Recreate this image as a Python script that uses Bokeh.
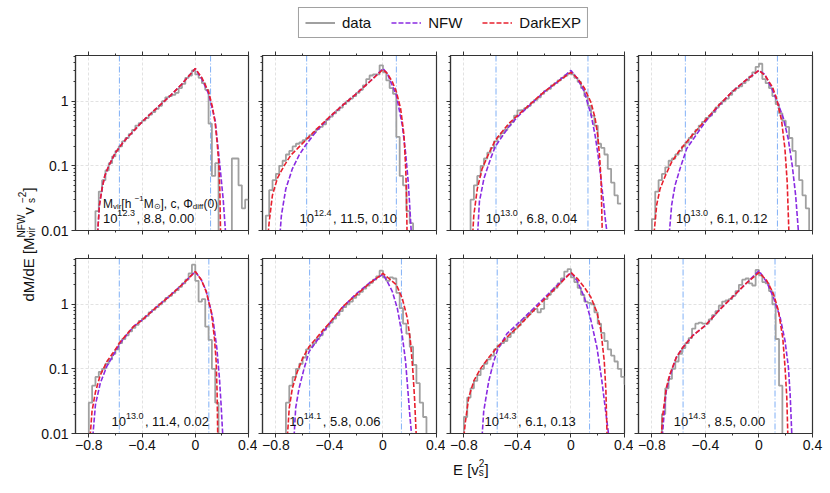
import math
import numpy as np
from bokeh.plotting import figure
from bokeh.models import (Range1d, FixedTicker, LinearAxis, CustomJSTickFormatter,
                          Span, Legend, LegendItem)
from bokeh.layouts import row, column
from bokeh.core.properties import value
from bokeh.embed import file_html
from bokeh.resources import INLINE

# ---------------------------------------------------------------- data
series_names = ["data", "NFW", "DarkEXP"]
xtick_vals = [-0.8, -0.4, 0.0, 0.4]
xtick_labels = ["\u22120.8", "\u22120.4", "0", "0.4"]
xtick_minor = [-0.6, -0.2, 0.2]
ytick_vals = [0.01, 0.1, 1.0]
ytick_labels = ["0.01", "0.1", "1"]

mass_exp = ["12.3", "12.4", "13.0", "13.0", "13.0", "14.1", "14.3", "14.3"]
conc = ["8.8", "11.5", "6.8", "6.1", "11.4", "5.8", "6.1", "8.5"]
phi0 = ["0.00", "0.10", "0.04", "0.12", "0.02", "0.06", "0.13", "0.00"]

# energy marks (blue dash-dot lines)
e_lo = [-0.57, -0.57, -0.56, -0.55, -0.571, -0.548, -0.551, -0.567]
e_hi = [0.115, 0.10, 0.127, 0.138, 0.102, 0.138, 0.139, 0.12]

# histogram of the simulation data: first bin edge, bin width, values
bin_width = 0.025
data_start = [-0.75, -0.875, -0.75, -0.8, -0.8, -0.725, -0.8, -0.725]
data_p1 = [0.02, 0.04, 0.06, 0.085, 0.11, 0.14, 0.17, 0.2, 0.24, 0.27, 0.31, 0.36, 0.42, 0.46, 0.5,
           0.55, 0.62, 0.68, 0.76, 0.85, 1.0, 1.15, 1.2, 1.25, 1.35, 1.6, 1.85, 2.3, 2.5, 3.0,
           2.6, 2.3, 1.9, 1.5, 0.45, 0.07, 0.11, 1e-4, 1e-4, 1e-4, 1e-4, 0.13, 0.13, 0.05, 0.022, 0.03]
data_p2 = [0.017, 0.042, 0.06, 0.075, 0.1, 0.12, 0.15, 0.17, 0.2, 0.22, 0.23, 0.25, 0.27, 0.3, 0.33,
           0.37, 0.4, 0.44, 0.52, 0.58, 0.65, 0.72, 0.8, 0.9, 1.0, 1.1, 1.2, 1.35, 1.5, 1.75, 2.2,
           2.5, 2.6, 2.6, 3.6,
           2.8, 2.1, 1.6, 1.3, 0.28, 0.07, 0.05, 0.02, 0.013, 1e-4]
data_p3 = [0.03, 0.05, 0.07, 0.1, 0.13, 0.16, 0.19, 0.24, 0.28, 0.32, 0.36, 0.42, 0.48, 0.6, 0.72,
           0.73, 0.78, 0.85, 0.95, 1.05, 1.15, 1.3, 1.45, 1.55, 1.75, 1.9, 2.1, 2.3, 2.5, 2.7,
           2.6, 2.3, 2.0, 1.6, 1.2, 0.85, 0.6, 0.42, 0.22, 0.19, 0.15, 0.09, 0.055, 0.035, 0.026]
data_p4 = [0.015, 0.04, 0.06, 0.075, 0.095, 0.12, 0.13, 0.15, 0.17, 0.2, 0.23, 0.27, 0.31, 0.36,
           0.42, 0.48, 0.55, 0.6, 0.68, 0.8, 0.9, 1.0, 1.1, 1.25, 1.45, 1.6, 1.7, 1.9, 2.1, 2.4,
           2.8, 3.4,
           3.8, 2.2, 1.9, 1.6, 1.2, 0.9, 0.65, 0.5, 0.4, 0.27, 0.17, 0.1, 0.06, 0.035, 0.022, 1e-4]
data_p5 = [0.03, 0.055, 0.075, 0.09, 0.1, 0.12, 0.14, 0.17, 0.2, 0.25, 0.29, 0.33, 0.38, 0.43,
           0.48, 0.55, 0.6, 0.66, 0.75, 0.82, 0.9, 1.0, 1.1, 1.25, 1.35, 1.5, 1.65, 1.85, 2.1, 2.4,
           3.0, 4.1,
           2.3, 1.1, 1.2, 0.45, 0.28, 0.1, 0.03, 1e-4]
data_p6 = [0.03, 0.055, 0.075, 0.1, 0.12, 0.15, 0.2, 0.22, 0.25, 0.29, 0.33, 0.4, 0.45, 0.52, 0.6,
           0.68, 0.78, 0.9, 1.0, 1.1, 1.25, 1.4, 1.55, 1.75, 1.95, 2.15, 2.4, 2.7, 3.3,
           2.6, 2.3, 2.6, 2.5, 1.5, 0.87, 0.5, 0.35, 0.22, 0.115, 0.06, 0.03, 0.018, 1e-4]
data_p7 = [0.018, 0.036, 0.05, 0.065, 0.08, 0.1, 0.12, 0.14, 0.16, 0.2, 0.23, 0.25, 0.27, 0.31,
           0.36, 0.42, 0.47, 0.55, 0.62, 0.7, 0.78, 0.85, 0.75, 0.85, 1.2, 1.4, 1.6, 1.8, 2.1, 2.5,
           3.2, 3.5,
           2.6, 2.2, 1.8, 1.4, 1.1, 1.05, 1.0, 0.75, 0.5, 0.36, 0.27, 0.2, 0.16, 0.13, 0.1, 0.075, 0.058]
data_p8 = [0.02, 0.05, 0.07, 0.1, 0.13, 0.17, 0.21, 0.25, 0.3, 0.42, 0.5, 0.52, 0.5, 0.5, 0.58,
           0.68, 0.78, 0.95, 1.1, 1.15, 1.2, 1.35, 1.6, 2.0, 2.4, 2.5, 2.1, 1.95, 3.4,
           2.8, 2.2, 2.1, 1.6, 1.0, 0.29, 0.055, 1e-4]
data_vals = [data_p1, data_p2, data_p3, data_p4, data_p5, data_p6, data_p7, data_p8]

# DarkEXP model curves
dexp_E1 = [-0.734, -0.72, -0.70, -0.68, -0.65, -0.60, -0.55, -0.50, -0.45, -0.40, -0.30, -0.20, -0.10, 0.0, 0.05, 0.10, 0.13, 0.15, 0.165, 0.178, 0.185, 0.19]
dexp_y1 = [0.009, 0.025, 0.045, 0.07, 0.10, 0.16, 0.22, 0.29, 0.37, 0.48, 0.75, 1.15, 1.85, 3.2, 2.3, 1.4, 0.8, 0.45, 0.22, 0.1, 0.04, 0.009]
dexp_E2 = [-0.858, -0.85, -0.826, -0.789, -0.739, -0.689, -0.639, -0.577, -0.49, -0.40, -0.30, -0.20, -0.10, 0.0, 0.032, 0.07, 0.10, 0.132, 0.157, 0.17, 0.176, 0.18]
dexp_y2 = [0.009, 0.0135, 0.035, 0.064, 0.10, 0.146, 0.185, 0.25, 0.38, 0.57, 0.87, 1.3, 2.0, 3.1, 2.7, 2.0, 1.4, 0.77, 0.3, 0.09, 0.035, 0.009]
dexp_E3 = [-0.734, -0.726, -0.70, -0.664, -0.614, -0.565, -0.465, -0.40, -0.30, -0.20, -0.10, 0.0, 0.05, 0.10, 0.15, 0.18, 0.20, 0.215, 0.225, 0.234]
dexp_y3 = [0.009, 0.017, 0.044, 0.09, 0.155, 0.25, 0.45, 0.6, 0.92, 1.4, 2.0, 2.8, 2.25, 1.6, 0.95, 0.55, 0.3, 0.13, 0.06, 0.009]
dexp_E4 = [-0.784, -0.764, -0.739, -0.70, -0.652, -0.60, -0.552, -0.465, -0.40, -0.30, -0.20, -0.10, 0.0, 0.045, 0.10, 0.132, 0.169, 0.194, 0.211, 0.224]
dexp_y4 = [0.009, 0.025, 0.044, 0.07, 0.115, 0.165, 0.22, 0.36, 0.51, 0.87, 1.4, 2.1, 3.0, 2.5, 1.67, 1.1, 0.5, 0.185, 0.056, 0.009]
dexp_E5 = [-0.79, -0.776, -0.75, -0.714, -0.664, -0.60, -0.565, -0.465, -0.40, -0.30, -0.20, -0.10, 0.0, 0.045, 0.082, 0.12, 0.144, 0.157, 0.164, 0.169]
dexp_y5 = [0.009, 0.022, 0.044, 0.08, 0.13, 0.2, 0.26, 0.45, 0.57, 0.87, 1.3, 2.0, 3.2, 2.4, 1.57, 0.77, 0.3, 0.13, 0.044, 0.009]
dexp_E6 = [-0.714, -0.70, -0.677, -0.64, -0.60, -0.552, -0.465, -0.40, -0.30, -0.20, -0.10, 0.0, 0.045, 0.10, 0.144, 0.182, 0.206, 0.224, 0.236, 0.249]
dexp_y6 = [0.009, 0.025, 0.05, 0.09, 0.146, 0.22, 0.36, 0.51, 0.92, 1.4, 2.1, 3.0, 2.5, 2.0, 1.24, 0.61, 0.26, 0.09, 0.035, 0.009]
dexp_E7 = [-0.80, -0.789, -0.764, -0.726, -0.677, -0.614, -0.552, -0.453, -0.398, -0.30, -0.20, -0.10, 0.0, 0.05, 0.10, 0.149, 0.194, 0.224, 0.249, 0.261, 0.27]
dexp_y7 = [0.009, 0.015, 0.036, 0.065, 0.1, 0.15, 0.215, 0.35, 0.44, 0.72, 1.18, 1.9, 3.1, 2.47, 1.83, 1.28, 0.75, 0.39, 0.13, 0.046, 0.009]
dexp_E8 = [-0.73, -0.718, -0.693, -0.668, -0.618, -0.568, -0.493, -0.40, -0.30, -0.20, -0.10, 0.0, 0.058, 0.108, 0.145, 0.178, 0.195, 0.208, 0.216]
dexp_y8 = [0.009, 0.02, 0.05, 0.08, 0.15, 0.215, 0.33, 0.47, 0.8, 1.28, 2.06, 3.1, 2.33, 1.45, 0.8, 0.3, 0.105, 0.036, 0.009]

# NFW model curves
nfw_E1 = [-0.734, -0.72, -0.70, -0.68, -0.65, -0.60, -0.55, -0.50, -0.45, -0.40, -0.30, -0.20, -0.10, 0.0, 0.05, 0.10, 0.15, 0.17, 0.19, 0.21, 0.228]
nfw_y1 = [0.009, 0.025, 0.045, 0.07, 0.10, 0.16, 0.22, 0.29, 0.37, 0.48, 0.75, 1.15, 1.85, 3.2, 2.2, 1.3, 0.5, 0.2, 0.08, 0.03, 0.009]
nfw_E2 = [-0.769, -0.759, -0.726, -0.677, -0.627, -0.577, -0.49, -0.40, -0.30, -0.20, -0.10, 0.0, 0.032, 0.10, 0.144, 0.169, 0.189, 0.20, 0.212]
nfw_y2 = [0.009, 0.017, 0.044, 0.09, 0.146, 0.21, 0.36, 0.56, 0.87, 1.3, 2.0, 3.2, 2.7, 1.24, 0.43, 0.16, 0.056, 0.024, 0.009]
nfw_E3 = [-0.697, -0.684, -0.65, -0.60, -0.565, -0.465, -0.40, -0.30, -0.20, -0.10, 0.0, 0.05, 0.10, 0.15, 0.18, 0.20, 0.22, 0.24, 0.255, 0.27]
nfw_y3 = [0.009, 0.028, 0.064, 0.13, 0.2, 0.4, 0.57, 0.9, 1.4, 2.0, 3.0, 2.2, 1.4, 0.62, 0.3, 0.16, 0.075, 0.032, 0.016, 0.009]
nfw_E4 = [-0.67, -0.652, -0.627, -0.59, -0.54, -0.465, -0.40, -0.30, -0.20, -0.10, 0.0, 0.045, 0.10, 0.144, 0.182, 0.219, 0.249, 0.274, 0.296]
nfw_y4 = [0.009, 0.025, 0.05, 0.09, 0.185, 0.31, 0.48, 0.85, 1.4, 2.1, 3.0, 2.6, 1.5, 0.9, 0.55, 0.26, 0.1, 0.035, 0.009]
nfw_E5 = [-0.77, -0.75, -0.714, -0.664, -0.60, -0.565, -0.465, -0.40, -0.30, -0.20, -0.10, 0.0, 0.045, 0.082, 0.132, 0.162, 0.182, 0.194, 0.207]
nfw_y5 = [0.009, 0.028, 0.06, 0.11, 0.185, 0.25, 0.45, 0.57, 0.87, 1.3, 2.0, 3.2, 2.4, 1.6, 0.61, 0.21, 0.07, 0.028, 0.009]
nfw_E6 = [-0.664, -0.652, -0.627, -0.59, -0.552, -0.465, -0.40, -0.30, -0.20, -0.10, 0.0, 0.032, 0.07, 0.107, 0.144, 0.169, 0.187, 0.20, 0.215]
nfw_y6 = [0.009, 0.025, 0.05, 0.1, 0.185, 0.33, 0.5, 0.9, 1.45, 2.15, 2.9, 2.25, 1.57, 0.87, 0.33, 0.13, 0.044, 0.02, 0.009]
nfw_E7 = [-0.664, -0.652, -0.627, -0.614, -0.577, -0.547, -0.478, -0.398, -0.30, -0.20, -0.10, 0.0, 0.045, 0.10, 0.144, 0.194, 0.231, 0.256, 0.283]
nfw_y7 = [0.009, 0.022, 0.045, 0.065, 0.13, 0.2, 0.35, 0.5, 0.78, 1.25, 2.0, 3.1, 2.33, 1.28, 0.63, 0.215, 0.065, 0.025, 0.009]
nfw_E8 = [-0.722, -0.705, -0.693, -0.668, -0.618, -0.568, -0.493, -0.40, -0.30, -0.20, -0.10, 0.0, 0.058, 0.108, 0.158, 0.195, 0.22, 0.233, 0.246]
nfw_y8 = [0.009, 0.025, 0.045, 0.075, 0.15, 0.215, 0.33, 0.47, 0.8, 1.28, 2.06, 3.3, 2.2, 1.28, 0.63, 0.27, 0.105, 0.04, 0.009]

dexp_E = [dexp_E1, dexp_E2, dexp_E3, dexp_E4, dexp_E5, dexp_E6, dexp_E7, dexp_E8]
dexp_y = [dexp_y1, dexp_y2, dexp_y3, dexp_y4, dexp_y5, dexp_y6, dexp_y7, dexp_y8]
nfw_E = [nfw_E1, nfw_E2, nfw_E3, nfw_E4, nfw_E5, nfw_E6, nfw_E7, nfw_E8]
nfw_y = [nfw_y1, nfw_y2, nfw_y3, nfw_y4, nfw_y5, nfw_y6, nfw_y7, nfw_y8]

# ---------------------------------------------------------------- style / layout
FONT = "Liberation Sans"
C_DATA = "#a0a0a0"
C_NFW = "#8a2be2"
C_DEXP = "#e8202e"
C_BLUE = "#6aa2f4"
C_AX = "#333333"
C_TXT = "#111111"
DASH = "5 2"

PAGE_W, PAGE_H = 830, 493
FRAME_W, FRAME_H = 174, 175
YLAB_W = 38
HDR_H = 48
X_RANGE = (-0.9, 0.4)
Y_RANGE = (0.01, 5.1)
ANN_X = [-0.694, -0.624, -0.636, -0.619, -0.63, -0.70, -0.646, -0.636]
ANN_Y = 0.0152
ANN_Y_HEAD = 0.0258
ANN_FS = 13
HEAD_FS = 12
GRID_CX = 443      # horizontal centre of the panel grid (page px)
GRID_CY = 244      # vertical centre between the two panel rows (page px)

CW = {'0': 556, '1': 556, '2': 556, '3': 556, '4': 556, '5': 556, '6': 556, '7': 556, '8': 556,
      '9': 556, '.': 278, ',': 278, ' ': 278, 'E': 667, '[': 278, ']': 278, 'v': 500, 's': 500,
      'd': 556, 'M': 833, '/': 278, 'i': 222, 'r': 333, 'N': 722, 'F': 611, 'W': 944,
      '\u2212': 584, 'h': 556, 'c': 500, '(': 333, ')': 333, '\u03a6': 798, 'f': 278,
      '\u2299': 838}


def tw(s, fs):
    return sum(CW.get(ch, 556) for ch in s) * fs / 1000.0


def add_pieces(p, x, y, pieces, fs, rotated=False, color=C_TXT, sup_gap=0.0):
    """Compose a label with sub/superscripts as several real text pieces."""
    adv = 0.0
    sfs = int(round(0.7 * fs))
    up, down = 0.42 * fs, 0.2 * fs
    for txt, mode in pieces:
        gap = 0.0
        if mode == "subsup":
            sub, sup = txt
            parts = [(sub, down), (sup, -up)]
            width = max(tw(sub, sfs), tw(sup, sfs))
            size = sfs
        elif mode == "sup":
            parts = [(txt, -up)]
            width = tw(txt, sfs)
            size = sfs
            gap = sup_gap
        elif mode == "sub":
            parts = [(txt, down)]
            width = tw(txt, sfs)
            size = sfs
        else:
            parts = [(txt, 0.0)]
            width = tw(txt, fs)
            size = fs
        for t, shift in parts:
            if rotated:
                ox, oy, ang = shift, -adv, math.pi / 2
            else:
                ox, oy, ang = adv, shift, 0.0
            p.text(x=[x], y=[y], text=[t], x_offset=ox, y_offset=oy, angle=ang,
                   text_font=value(FONT), text_font_size=value(f"{size}px"),
                   text_align="left", text_baseline="alphabetic", text_color=color)
        adv += width + gap


def val_formatter(vals, labs, log=False):
    if log:
        code = """
        for (let i = 0; i < vals.length; i++) {
            if (Math.abs(Math.log10(tick) - Math.log10(vals[i])) < 1e-6) return labs[i];
        }
        return "";"""
    else:
        code = """
        for (let i = 0; i < vals.length; i++) {
            if (Math.abs(tick - vals[i]) < 1e-6) return labs[i];
        }
        return "";"""
    return CustomJSTickFormatter(args=dict(vals=vals, labs=labs), code=code)


def style_axis(ax, labels):
    ax.axis_line_color = C_AX
    ax.axis_line_width = 1.2
    ax.major_tick_line_color = C_AX
    ax.minor_tick_line_color = C_AX
    ax.major_tick_in = 0
    ax.major_tick_out = 4
    ax.minor_tick_in = 0
    ax.minor_tick_out = 2
    ax.major_label_text_font = FONT
    ax.major_label_text_color = C_TXT
    if labels:
        ax.major_label_text_font_size = "14px"
    else:
        ax.major_label_text_font_size = "0px"
        ax.major_label_standoff = 0
        ax.formatter = CustomJSTickFormatter(code="return '';")


def blank_fig(w, h, xr, yr, **kw):
    f = figure(width=w, height=h, x_range=Range1d(*xr), y_range=Range1d(*yr),
               x_axis_location=None, y_axis_location=None, toolbar_location=None,
               output_backend="svg", **kw)
    f.outline_line_color = None
    f.xgrid.visible = False
    f.ygrid.visible = False
    for r in f.center:
        r.visible = False
    return f


y_minor = [m * 10.0 ** k for k in (-2, -1) for m in range(2, 10)] + [2.0, 3.0, 4.0, 5.0]

LB = [36, 5, 5, 5]
RB = [9, 9, 9, 18]
TB = [7, 14]
BB = [14, 22]


def make_panel(i):
    col, rw = i % 4, i // 4
    lb, rb, tb, bb = LB[col], RB[col], TB[rw], BB[rw]
    p = figure(width=lb + FRAME_W + rb, height=tb + FRAME_H + bb,
               x_range=Range1d(*X_RANGE), y_range=Range1d(*Y_RANGE), y_axis_type="log",
               output_backend="svg", toolbar_location=None,
               min_border_left=lb, min_border_right=rb, min_border_top=tb, min_border_bottom=bb)
    p.outline_line_color = C_AX
    p.outline_line_width = 1.2
    p.background_fill_color = "white"
    p.border_fill_color = "white"

    xt = FixedTicker(ticks=xtick_vals, minor_ticks=xtick_minor)
    yt = FixedTicker(ticks=ytick_vals, minor_ticks=y_minor)
    top = LinearAxis(ticker=xt)
    p.add_layout(top, "above")
    p.xaxis.ticker = xt
    p.yaxis.ticker = yt

    bottom = p.below[0]
    left = p.left[0]
    style_axis(top, False)
    if rw == 1:
        style_axis(bottom, True)
        bottom.formatter = val_formatter(xtick_vals, xtick_labels)
        bottom.major_label_standoff = 2
    else:
        style_axis(bottom, False)
    if col == 0:
        style_axis(left, True)
        left.formatter = val_formatter(ytick_vals, ytick_labels, log=True)
        left.major_label_standoff = 3
    else:
        style_axis(left, False)

    for g in (p.xgrid[0], p.ygrid[0]):
        g.grid_line_color = "#dadada"
        g.grid_line_dash = "3 2"
        g.grid_line_width = 0.8

    for loc in (e_lo[i], e_hi[i]):
        p.add_layout(Span(location=loc, dimension="height", line_color=C_BLUE,
                          line_width=1, line_dash="6 2 1 2", line_alpha=0.85, level="underlay"))

    # step histogram
    vals = data_vals[i]
    edges = data_start[i] + bin_width * np.arange(len(vals) + 1)
    xs, ys = [edges[0]], [1e-4]
    for k, v in enumerate(vals):
        xs += [edges[k], edges[k + 1]]
        ys += [v, v]
    p.line(xs, ys, line_color=C_DATA, line_width=1.8)
    p.line(nfw_E[i], nfw_y[i], line_color=C_NFW, line_width=1.6, line_dash=DASH)
    p.line(dexp_E[i], dexp_y[i], line_color=C_DEXP, line_width=1.6, line_dash=DASH)

    ann = [("10", "n"), (mass_exp[i], "sup"), (", " + conc[i] + ", " + phi0[i], "n")]
    add_pieces(p, ANN_X[i], ANN_Y, ann, ANN_FS, sup_gap=1.5)
    if i == 0:
        head = [("M", "n"), ("vir", "sub"), (" [h", "n"), ("\u22121", "sup"), ("M", "n"),
                ("\u2299", "sub"), ("], c, \u03a6", "n"), ("diff", "sub"), ("(0)", "n")]
        add_pieces(p, ANN_X[i], ANN_Y_HEAD, head, HEAD_FS)
    return p


panels = [make_panel(i) for i in range(8)]

# ---------------------------------------------------------------- header legend
hdr = blank_fig(PAGE_W, HDR_H, (0, 1), (0, 1), min_border_left=2 * GRID_CX - PAGE_W,
                min_border_right=0, min_border_top=7, min_border_bottom=0)
nan = [float("nan")]
r_data = hdr.line(x=nan, y=nan, line_color=C_DATA, line_width=2)
r_nfw = hdr.line(x=nan, y=nan, line_color=C_NFW, line_width=1.6, line_dash=DASH)
r_dexp = hdr.line(x=nan, y=nan, line_color=C_DEXP, line_width=1.6, line_dash=DASH)
leg = Legend(items=[LegendItem(label=series_names[0], renderers=[r_data]),
                    LegendItem(label=series_names[1], renderers=[r_nfw]),
                    LegendItem(label=series_names[2], renderers=[r_dexp])],
             orientation="horizontal", location="top_center", margin=0,
             label_text_font=FONT, label_text_font_size="15px", label_text_color=C_TXT,
             glyph_width=30, glyph_height=15, label_height=15, label_standoff=7,
             spacing=20, padding=6, border_line_color="#444444", border_line_width=1.2,
             background_fill_color="white", background_fill_alpha=1.0)
hdr.add_layout(leg)

# ---------------------------------------------------------------- y label
ROWS_H = panels[0].height + panels[4].height
ylab = blank_fig(YLAB_W, ROWS_H, (0, YLAB_W), (0, ROWS_H), min_border=0, min_border_left=0,
                 min_border_right=0, min_border_top=0, min_border_bottom=0)
ylab_pieces = [("dM/dE [M", "n"), (("vir", "NFW"), "subsup"), (" v", "n"),
               (("s", "\u22122"), "subsup"), ("]", "n")]
ylen = tw("dM/dE [M", 15) + tw("NFW", 10) + tw(" v", 15) + tw("\u22122", 10) + tw("]", 15)
ycen = HDR_H + ROWS_H - GRID_CY
add_pieces(ylab, 27.5, ycen - ylen / 2.0, ylab_pieces, 15, rotated=True)

# ---------------------------------------------------------------- x label
XL_H = PAGE_H - HDR_H - ROWS_H
xlab = blank_fig(PAGE_W, XL_H, (0, PAGE_W), (0, XL_H), min_border=0, min_border_left=0,
                 min_border_right=0, min_border_top=0, min_border_bottom=0)
xlab_pieces = [("E [v", "n"), (("s", "2"), "subsup"), ("]", "n")]
xlen = tw("E [v", 15) + tw("2", 10) + tw("]", 15)
add_pieces(xlab, GRID_CX - xlen / 2.0, XL_H - 13.5, xlab_pieces, 15)

grid = column(row(*panels[:4]), row(*panels[4:]))
page = column(hdr, row(ylab, grid), xlab)

open("out.html", "w").write(file_html(page, INLINE))
